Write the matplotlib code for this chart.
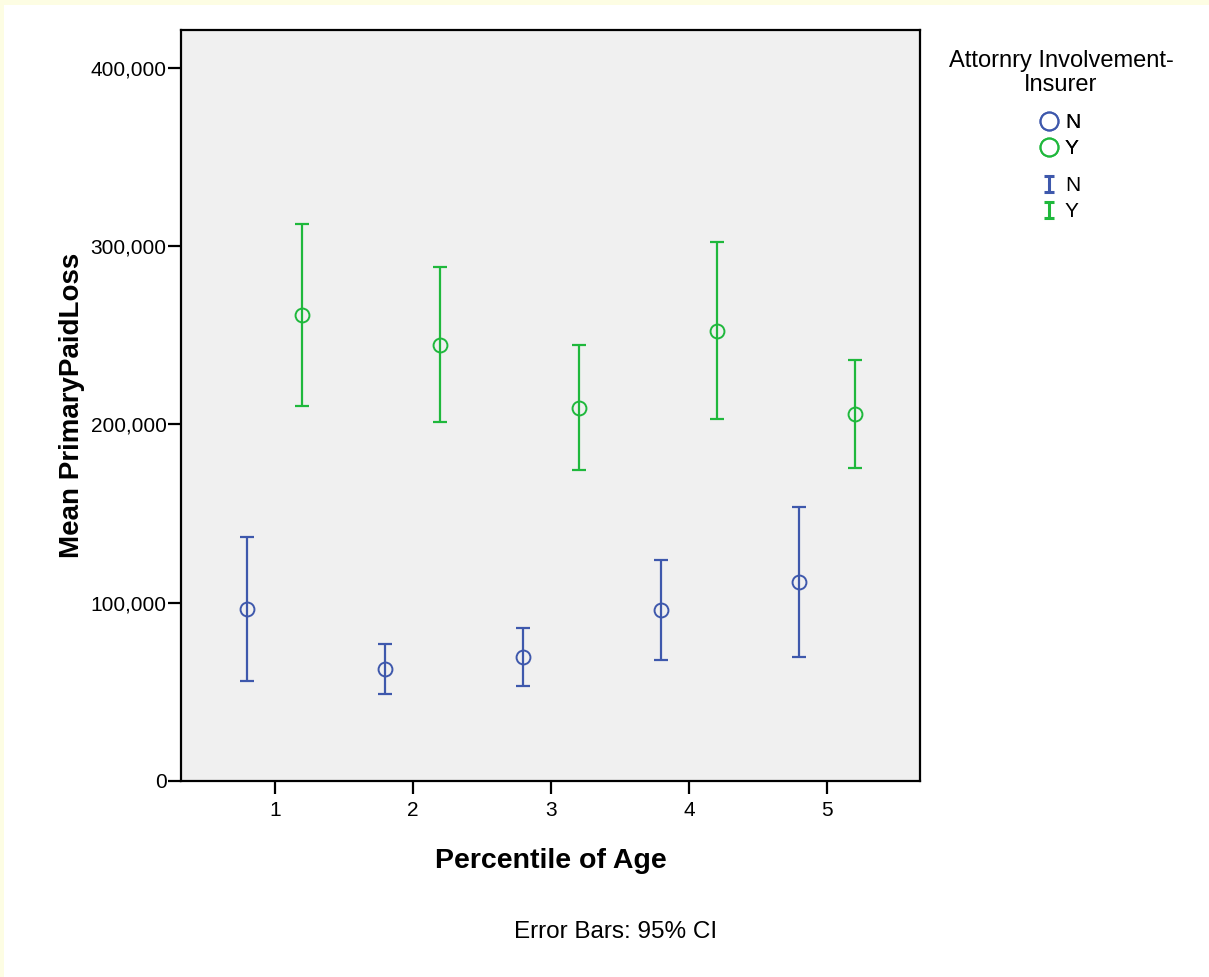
import numpy as np
import matplotlib.pyplot as plt
from matplotlib.lines import Line2D
from matplotlib.path import Path
from matplotlib.patches import Rectangle

plt.rcParams['font.family'] = ['Liberation Sans', 'DejaVu Sans']

groups = [1, 2, 3, 4, 5]
tick_labels = ['1', '2', '3', '4', '5']
# attorney involvement = N
n_mean = [96500, 62800, 69600, 95900, 111600]
n_low = [56100, 48800, 53300, 67900, 69600]
n_high = [136900, 76900, 85800, 124000, 153700]
# attorney involvement = Y
y_mean = [261400, 244600, 209300, 252500, 205900]
y_low = [210400, 201400, 174500, 203100, 175600]
y_high = [312500, 288400, 244600, 302400, 236200]

blue = '#3e58ac'
green = '#1fb83c'

fig = plt.figure(figsize=(12.09, 9.77), dpi=100)
fig.patch.set_facecolor('#fdfde3')
fig.patches.append(Rectangle((4/1209, 0), 1, 1 - 5/977, transform=fig.transFigure,
                             facecolor='white', edgecolor='none', zorder=-10))

ax = fig.add_axes([181/1209, 196/977, 739/1209, 751/977])
ax.set_facecolor('#f0f0f0')

x = np.array(groups, dtype=float)
for xs, m, lo, hi, c in [(x - 0.2, n_mean, n_low, n_high, blue),
                         (x + 0.2, y_mean, y_low, y_high, green)]:
    m = np.array(m); lo = np.array(lo); hi = np.array(hi)
    ax.errorbar(xs, m, yerr=[m - lo, hi - m], fmt='none', ecolor=c,
                elinewidth=1.6, capsize=5, capthick=1.6, zorder=2)
    ax.plot(xs, m, 'o', ms=10, mfc='none', mec=c, mew=1.4, zorder=3)

ax.set_xlim(0.32, 5.674)
ax.set_ylim(0, 421300)
ax.set_xticks(groups)
ax.set_xticklabels(tick_labels)
ax.set_yticks([0, 100000, 200000, 300000, 400000])
ax.set_yticklabels(['0', '100,000', '200,000', '300,000', '400,000'])
ax.tick_params(labelsize=15, length=9.5, width=1.6)
ax.tick_params(axis='x', pad=5)
ax.tick_params(axis='y', pad=1)
for s in ax.spines.values():
    s.set_linewidth(1.6)

ax.set_xlabel('Percentile of Age', fontsize=20.5, fontweight='bold', labelpad=20)
ax.set_ylabel('Mean PrimaryPaidLoss', fontsize=20, fontweight='bold', labelpad=4)

fig.text(616/1209, 1 - 932/977, 'Error Bars: 95% CI', fontsize=17.5,
         ha='center', va='center')

# legend
fig.text(1061/1209, 1 - 73/977, 'Attornry Involvement-\nInsurer', fontsize=17,
         ha='center', va='center', linespacing=1.15)

ibar = Path([(-0.65, 1), (0.65, 1), (0, 1), (0, -1), (-0.65, -1), (0.65, -1)],
            [Path.MOVETO, Path.LINETO, Path.MOVETO, Path.LINETO, Path.MOVETO, Path.LINETO])

circ_handles = [Line2D([], [], ls='none', marker='o', ms=13, mfc='none', mec=blue, mew=1.4),
                Line2D([], [], ls='none', marker='o', ms=13, mfc='none', mec=green, mew=1.4)]
bar_handles = [Line2D([], [], ls='none', marker=ibar, ms=11, mec=blue, mew=2.2),
               Line2D([], [], ls='none', marker=ibar, ms=11, mec=green, mew=2.2)]

leg1 = fig.legend(circ_handles, ['N', 'Y'], loc='upper left',
                  bbox_to_anchor=(1040/1209, 1 - 113/977), frameon=False,
                  fontsize=15, handlelength=0.9, handletextpad=0.3,
                  labelspacing=0.35, borderpad=0, borderaxespad=0)
fig.add_artist(leg1)
fig.legend(bar_handles, ['N', 'Y'], loc='upper left',
           bbox_to_anchor=(1040/1209, 1 - 176/977), frameon=False,
           fontsize=15, handlelength=0.9, handletextpad=0.3,
           labelspacing=0.35, borderpad=0, borderaxespad=0)

fig.savefig('out.png', dpi=100, facecolor=fig.get_facecolor())
